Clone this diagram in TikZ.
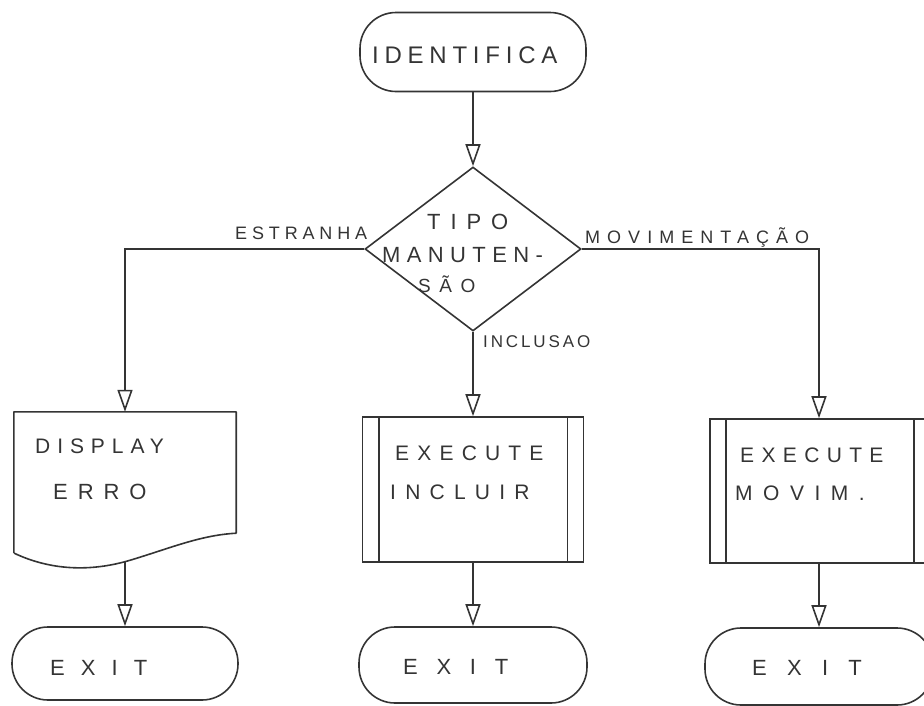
\documentclass[tikz,border=0pt]{standalone}
\usepackage{fontspec}
\setmainfont{Liberation Sans}
\usetikzlibrary{arrows.meta,shapes.geometric,calc}
\definecolor{inkc}{RGB}{52,52,52}
% lettering: size (pt), letter spacing (% of em), text
\newcommand\lsp[3]{{\fontsize{#1pt}{#1pt}\selectfont\addfontfeature{LetterSpace=#2}#3}}
\begin{document}
\begin{tikzpicture}[x=1pt,y=-1pt,
  ink/.style={draw=inkc, line width=1.6pt},
  flow/.style={ink, -{Triangle[open,length=22pt,width=15pt]}},
  term/.style={ink, rectangle, rounded corners=36pt, inner sep=0pt},
  proc/.style={ink, rectangle, inner sep=0pt},
  txt/.style={anchor=west, inner sep=0pt, text=inkc}]
\useasboundingbox (0,0) rectangle (924,705);

% start terminal and decision
\node[term, minimum width=226pt, minimum height=79pt] (idf) at (473,52) {};
\node[ink, diamond, inner sep=0pt, minimum width=216pt, minimum height=164pt] (tipo) at (473,249) {};

% display (document) box
\node[inner sep=0pt, minimum width=222pt, minimum height=121pt] (disp) at (125,472.5) {};
\draw[ink, line join=round] (disp.south west) ++(0,20) -- (disp.north west) -- (disp.north east) -- (disp.south east)
  .. controls +(-36,2) and +(40,-12) .. ++(-106,27)
  .. controls +(-40,12) and +(36,17) .. ++(-116,-7);
\coordinate (dispB) at (125,561);

% predefined process boxes
\node[proc, minimum width=221pt, minimum height=145pt] (inc) at (473,489.5) {};
\draw[ink] ([xshift=17pt]inc.north west) -- ([xshift=17pt]inc.south west);
\draw[ink] ([xshift=-17pt]inc.north east) -- ([xshift=-17pt]inc.south east);
\node[proc, minimum width=218pt, minimum height=144pt] (mov) at (819,491) {};
\draw[ink] ([xshift=17pt]mov.north west) -- ([xshift=17pt]mov.south west);
\draw[ink] ([xshift=-15pt]mov.north east) -- ([xshift=-15pt]mov.south east);

% exit terminals
\node[term, minimum width=226pt, minimum height=73pt] (exitA) at (125,663.5) {};
\node[term, minimum width=228pt, minimum height=76pt] (exitB) at (473,665) {};
\node[term, minimum width=228pt, minimum height=77pt] (exitC) at (819,666.5) {};

% connectors
\draw[flow] (idf) -- (tipo);
\draw[flow] (tipo.west) -| (disp.north);
\draw[flow] (tipo.east) -| (mov.north);
\draw[flow] (tipo.south) -- (inc.north);
\draw[flow] (dispB) -- (exitA);
\draw[flow] (inc) -- (exitB);
\draw[flow] (mov) -- (exitC);

% texts
\node[txt] (tIdf) at (372,55) {\lsp{24}{24}{IDENTIFICA}};
\node[txt] (tTipo1) at (427,222) {\lsp{22}{45}{TIPO}};
\node[txt] (tTipo2) at (382,255) {\lsp{22}{29}{MANUTEN-}};
\node[txt] (tTipo3) at (418,284) {\lsp{19}{45}{SÃO}};
\node[txt] (lEst) at (235,233) {\lsp{18}{27}{ESTRANHA}};
\node[txt] (lMov) at (585,237) {\lsp{18}{39}{MOVIMENTAÇÃO}};
\node[txt] (lInc) at (483,342) {\lsp{17}{17}{INCLUSAO}};
\node[txt] (tDisp1) at (35,446) {\lsp{21}{33}{DISPLAY}};
\node[txt] (tDisp2) at (53,492) {\lsp{22}{45}{ERRO}};
\node[txt] (tInc1) at (395,453) {\lsp{21}{39}{EXECUTE}};
\node[txt] (tInc2) at (390,492) {\lsp{21}{44}{INCLUIR}};
\node[txt] (tMov1) at (740,455) {\lsp{21}{35}{EXECUTE}};
\node[txt] (tMov2) at (735,493) {\lsp{21}{50}{MOVIM.}};
\node[txt] (tExA) at (50,668) {\lsp{22}{73}{EXIT}};
\node[txt] (tExB) at (403,667) {\lsp{22}{85}{EXIT}};
\node[txt] (tExC) at (752,668) {\lsp{22}{92}{EXIT}};
\end{tikzpicture}
\end{document}
